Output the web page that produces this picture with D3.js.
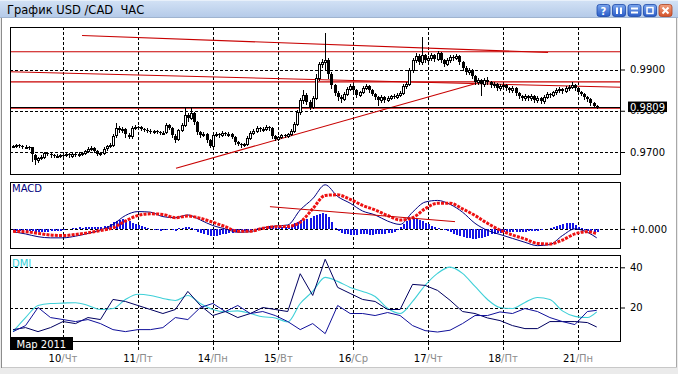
<!DOCTYPE html>
<html>
<head>
<meta charset="utf-8">
<script src="https://cdn.jsdelivr.net/npm/d3@7"></script>
<style>
  body { margin: 0; background: #fff; }
  svg { display: block; }
  text { font-family: "DejaVu Sans", sans-serif; }
</style>
</head>
<body>
<svg id="chart" width="678" height="374"></svg>
<script>
// prices are pips above 0.9700
const BASE = 0.9700;
const opens = [
  14,15,16,14,12,13,11,-7,-19,-15,
  -12,-3,-5,-8,-10,-9,-7,-8,-6,-9,
  -5,-6,-4,-3,2,8,10,3,-4,-2,
  8,14,17,40,58,52,55,42,38,58,
  61,60,56,54,52,50,51,48,46,47,
  65,58,40,30,53,65,90,82,94,73,
  48,41,44,29,15,41,44,41,46,44,
  44,36,24,20,17,19,34,46,51,58,
  55,56,61,58,39,32,36,41,39,44,
  51,68,97,126,138,121,109,131,179,213,
  218,223,189,162,143,133,128,141,153,160,
  150,138,145,155,160,150,141,133,126,133,
  126,131,136,133,138,143,160,165,199,223,
  233,218,235,223,228,235,225,240,223,213,
  223,230,228,233,218,204,194,199,184,170,
  175,165,175,170,162,165,155,160,162,155,
  150,155,143,136,131,136,131,136,126,131,
  124,133,141,138,145,150,153,148,155,158,
  162,155,145,141,133,128,119,111
];
const highs = [
  18,19,19,17,16,15,13,-4,-12,-8,
  1,0,-2,-5,-6,-4,-4,-3,-3,-2,
  -2,-1,1,6,12,14,12,5,1,11,
  17,21,44,70,62,60,57,46,62,65,
  64,63,59,57,55,54,54,51,50,70,
  68,60,43,56,70,107,95,107,97,76,
  51,48,46,32,44,48,47,50,49,48,
  47,38,27,23,22,38,50,55,62,61,
  60,65,64,60,42,40,44,44,47,55,
  72,101,130,150,142,125,135,190,218,225,
  288,228,195,166,147,137,145,157,165,163,
  153,149,159,165,163,153,144,136,137,136,
  135,139,140,142,147,164,170,203,228,240,
  237,279,238,233,240,238,245,243,226,227,
  234,234,238,236,221,208,203,202,187,179,
  178,179,182,173,169,168,164,166,165,158,
  159,158,146,139,140,139,140,139,135,134,
  137,145,144,149,154,157,156,159,162,170,
  165,158,148,144,136,131,122,113
];
const lows = [
  11,12,11,9,9,8,-22,-29,-24,-18,
  -14,-8,-11,-13,-13,-11,-11,-10,-12,-12,
  -9,-9,-7,-5,0,5,0,-8,-7,-4,
  5,11,14,37,48,49,36,33,35,55,
  56,53,51,49,47,47,45,43,43,45,
  55,36,24,28,50,62,76,79,68,44,
  36,38,24,12,13,38,37,39,41,40,
  33,20,16,13,14,17,32,43,48,51,
  52,53,54,35,28,29,33,36,36,41,
  49,65,93,120,116,104,106,128,175,205,
  200,180,155,138,126,122,125,138,150,146,
  134,135,142,152,146,137,129,115,122,122,
  123,128,130,130,135,140,155,162,195,219,
  213,214,218,219,224,220,222,218,208,210,
  219,224,225,214,199,190,190,180,165,166,
  138,161,166,158,158,151,151,156,151,146,
  146,139,132,127,127,126,127,121,122,119,
  120,130,134,135,141,146,144,145,151,155,
  151,141,137,129,124,115,108,107
];
const closes = [
  15,16,14,12,13,11,-7,-19,-15,-12,
  -3,-5,-8,-10,-9,-7,-8,-6,-9,-5,
  -6,-4,-3,2,8,10,3,-4,-2,8,
  14,17,40,58,52,55,42,38,58,61,
  60,56,54,52,50,51,48,46,47,65,
  58,40,30,53,65,90,82,94,73,48,
  41,44,29,15,41,44,41,46,44,44,
  36,24,20,17,19,34,46,51,58,55,
  56,61,58,39,32,36,41,39,44,51,
  68,97,126,138,121,109,131,179,213,218,
  223,189,162,143,133,128,141,153,160,150,
  138,145,155,160,150,141,133,126,133,126,
  131,136,133,138,143,160,165,199,223,233,
  218,235,223,228,235,225,240,223,213,223,
  230,228,233,218,204,194,199,184,170,175,
  165,175,170,162,165,155,160,162,155,150,
  155,143,136,131,136,131,136,126,131,124,
  133,141,138,145,150,153,148,155,158,162,
  155,145,141,133,128,119,111,109
];
const bidPips = 109;
const priceTicks = [0, 100, 200];
const hLines = [243, 170, 106];
// trend lines: [bar, pips, bar, pips]
const trendLines = [
  [22.1, 282.4, 171.4, 241.2],
  [-1, 194.7, 194.8, 156.8],
  [52.2, -39.5, 148.3, 166]
];

const dayBars = [16, 40, 64, 85, 109, 133, 157, 181];
const dayNums = ["10", "11", "14", "15", "16", "17", "18", "21"];
const dayNames = ["Чт", "Пт", "Пн", "Вт", "Ср", "Чт", "Пт", "Пн"];

// indicator lines are read every LINE_STEP bars
const LINE_STEP = 4;
const macdMain = [
  -2.5,-4.5,-7,-8,-8,-6.5,-4,-1,4,12,
  15.5,15,11,10,12.5,8,3,0,-3,-2.5,
  1,2.5,3.5,17,27,39.5,29,23,16,12.5,
  7,4,15,24,25.5,22,15,5,-1.3,-5,
  -8.5,-12,-15,-14,-6,0,-3,-8
];
const macdSignal = [
  -2.2,-2.5,-4,-5.5,-6,-5,-3.5,-1.5,1,7,
  12,13.5,13,10,11.5,9.5,6,2,-2,-2,
  0.5,2,2.2,6,18,30,30.5,26.5,21,17,
  12,8,10,18,23,23,18,12,5,-1,
  -5.5,-9,-13,-13.5,-10,-4.5,-2.5,-4.3
];
const macdHist = [
  -1.5,-1.5,-1.5,-1.5,-2,-2,-2,-2.5,-2.5,-2.5,
  -2.5,-2.5,-2,-2,-2,-1.5,-1,-0.5,-0.5,0.5,
  1,1.5,1,2,2,1.5,2,1.5,2,2.5,
  3,4.5,6,7,8,8.5,8,7,5.5,4,
  3.5,2.5,1.5,0.5,-0.5,-1,-1,-1.5,-1,-1,
  -0.5,-1,-1.5,0.5,1,1.5,1.5,0.5,-1,-2.5,
  -3.5,-4.5,-5.5,-6.5,-6.5,-6,-5.5,-5,-4.5,-4,
  -3.5,-3,-2.5,-2,-2,-1.5,-1,-0.5,0.5,1,
  1.5,2,2.5,2.5,2,1.5,1.5,2,2.5,3.5,
  5,6.5,8,8.5,9,10,11.5,12.5,13.5,14,
  13.5,11,6,1,-2,-3.5,-4.5,-5,-5.5,-5.5,
  -5.5,-5,-5,-5,-5.5,-5.5,-5,-5,-4.5,-4.5,
  -4,-3.5,-2.5,-1,2,4.5,7,8.5,9,9,
  8,7,5.5,4,2.5,1.5,0.5,-0.5,-1,-2,
  -3,-4.5,-5.5,-6.5,-7.5,-8,-8.5,-9,-9,-8.5,
  -8,-7,-6,-5,-4.5,-4,-3.5,-3,-3,-3,
  -3,-2.5,-2.5,-2.5,-2.5,-2,-2,-2,-1.5,-1,
  -0.5,0,0.5,1.5,2.5,3.5,4.5,5,5.5,5,
  3.5,2,0.5,-1,-2,-2.5,-3,-3
];
const macdTrend = [82.3, 19.9, 141.6, 6.5];

const adx = [
  8,15,21,22,22.2,22.4,21,19,19.5,24,
  26.6,26,24.5,23.5,26,22,19,17.9,18.3,17,
  15.4,14.8,12.8,22,28,35,33,30,28,25.5,
  19.6,17,23,31,37,40.1,37,30.5,24,20,
  19.5,22.5,25,24,18.3,15.6,15,17.8
];
const plusDI = [
  9,10,8,10,13,12,15,14,24,23,
  21,19,17,19,28,21,16,18,15,17,
  20,19,18,36.8,26,44,30,27,24,23,
  19,19,31.5,31,28.5,23.6,18,17,14.8,13.5,
  11,9.5,9.5,13,13,13,12.5,10.3
];
const minusDI = [
  8,11,20,15,14,13,14,12,9,8,
  9,9,10,15,14,20,22,18,21,17,
  18,16,13,9,12,7,21,17,17,16,
  17.5,16,11,8.5,7.8,8.7,12,16,16,17.8,
  17,19.5,18,15,13,11.5,18,18.6
];
const dmiTicks = [20, 40];

const svg = d3.select("#chart");
const W = 678, H = 374;
const left = 10, right = 621;
const mainP = { top: 27, bottom: 175 };
const macdP = { top: 182, bottom: 249 };
const dmiP = { top: 255, bottom: 342 };

const x = d3.scaleLinear().domain([16, 181]).range([63, 578]);
const yPrice = d3.scaleLinear().domain([0, 200]).range([152, 69.5]);
const yMacd = d3.scaleLinear().domain([-18, 42]).range([249, 182]);
const yDmi = d3.scaleLinear().domain([0, 40]).range([347.7, 267.3]);
const xLine = k => x(Math.min(k * LINE_STEP, closes.length - 1));
const px = v => Math.round(x(v)) + 0.5;

// window frame
const defs = svg.append("defs");
const tg = defs.append("linearGradient").attr("id", "titleGrad").attr("x1", 0).attr("y1", 0).attr("x2", 0).attr("y2", 1);
tg.append("stop").attr("offset", 0).attr("stop-color", "#d3e2f5");
tg.append("stop").attr("offset", 1).attr("stop-color", "#b3c9e8");
const bg = defs.append("linearGradient").attr("id", "btnGrad").attr("x1", 0).attr("y1", 0).attr("x2", 0).attr("y2", 1);
bg.append("stop").attr("offset", 0).attr("stop-color", "#7aa5ec");
bg.append("stop").attr("offset", 1).attr("stop-color", "#2a5cc8");
const rg = defs.append("linearGradient").attr("id", "closeGrad").attr("x1", 0).attr("y1", 0).attr("x2", 0).attr("y2", 1);
rg.append("stop").attr("offset", 0).attr("stop-color", "#f0a080");
rg.append("stop").attr("offset", 1).attr("stop-color", "#d4532a");

[["main", mainP], ["macd", macdP], ["dmi", dmiP]].forEach(([id, p]) => {
  defs.append("clipPath").attr("id", "clip-" + id)
    .append("rect").attr("x", left).attr("y", p.top).attr("width", right - left).attr("height", p.bottom - p.top);
});

svg.append("rect").attr("width", W).attr("height", H).attr("fill", "#ebebeb");
svg.append("rect").attr("x", 2).attr("y", 18).attr("width", 674).attr("height", 349).attr("fill", "#fff");
svg.append("rect").attr("x", 0).attr("y", 0).attr("width", W).attr("height", 18).attr("fill", "url(#titleGrad)");
svg.append("line").attr("x1", 0).attr("x2", W).attr("y1", 17.5).attr("y2", 17.5).attr("stroke", "#9fb3cf");
svg.append("line").attr("x1", 0).attr("x2", W).attr("y1", 0.5).attr("y2", 0.5).attr("stroke", "#e8f0fa");
svg.append("line").attr("x1", 1.5).attr("x2", 1.5).attr("y1", 18).attr("y2", 368).attr("stroke", "#8c8c8c");
svg.append("line").attr("x1", 676.5).attr("x2", 676.5).attr("y1", 18).attr("y2", 368).attr("stroke", "#a8a8a8");
svg.append("line").attr("x1", 2).attr("x2", 677).attr("y1", 367.5).attr("y2", 367.5).attr("stroke", "#c8c8c8");

svg.append("text").attr("x", 7).attr("y", 14).attr("font-size", 11.5).attr("fill", "#000")
  .style("white-space", "pre").text("График USD /CAD  ЧАС");

const btnX = [597, 612.5, 628, 643.5, 659];
const btns = svg.append("g").selectAll("g").data(btnX).join("g")
  .attr("transform", d => `translate(${d},4.5)`);
btns.append("rect").attr("width", 13).attr("height", 12).attr("rx", 2.5)
  .attr("fill", (d, i) => i === 4 ? "url(#closeGrad)" : "url(#btnGrad)")
  .attr("stroke", (d, i) => i === 4 ? "#b0401c" : "#1d49a8").attr("stroke-width", 0.8);
btns.filter((d, i) => i === 0).append("text").attr("x", 6.5).attr("y", 10).attr("text-anchor", "middle")
  .attr("font-size", 10).attr("font-weight", "bold").attr("fill", "#fff").text("?");
const pauseB = btns.filter((d, i) => i === 1);
pauseB.append("rect").attr("x", 3.5).attr("y", 3).attr("width", 2).attr("height", 6.5).attr("fill", "#fff");
pauseB.append("rect").attr("x", 7.5).attr("y", 3).attr("width", 2).attr("height", 6.5).attr("fill", "#fff");
const eqB = btns.filter((d, i) => i === 2);
eqB.append("rect").attr("x", 3).attr("y", 3).attr("width", 7).attr("height", 2).attr("fill", "#fff");
eqB.append("rect").attr("x", 3).attr("y", 7).attr("width", 7).attr("height", 2).attr("fill", "#fff");
btns.filter((d, i) => i === 3).append("rect").attr("x", 3.5).attr("y", 3).attr("width", 6).attr("height", 6)
  .attr("fill", "none").attr("stroke", "#fff").attr("stroke-width", 1.5);
const xB = btns.filter((d, i) => i === 4);
xB.append("path").attr("d", "M3.5,3 L9.5,9 M9.5,3 L3.5,9").attr("stroke", "#fff").attr("stroke-width", 2);

// grid helpers
function vGrid(p) {
  svg.append("g").selectAll("line").data(dayBars).join("line")
    .attr("x1", d => px(d)).attr("x2", d => px(d)).attr("y1", p.top).attr("y2", p.bottom)
    .attr("stroke", "#000").attr("stroke-dasharray", "3,2").attr("shape-rendering", "crispEdges");
}
function hGrid(p, vals, scale) {
  svg.append("g").selectAll("line").data(vals).join("line")
    .attr("x1", left).attr("x2", right)
    .attr("y1", d => Math.round(scale(d)) + 0.5).attr("y2", d => Math.round(scale(d)) + 0.5)
    .attr("stroke", "#000").attr("stroke-dasharray", "3,2").attr("shape-rendering", "crispEdges");
}
function rightAxis(scale, vals, fmt) {
  const g = svg.append("g").attr("transform", `translate(${right},0)`)
    .call(d3.axisRight(scale).tickValues(vals).tickFormat(fmt).tickSize(4).tickPadding(5));
  g.select(".domain").remove();
  g.selectAll("line").attr("stroke", "#000");
  g.selectAll("text").attr("font-size", 10).attr("font-family", "DejaVu Sans, sans-serif").attr("fill", "#000");
  return g;
}

// ---- main price panel
vGrid(mainP);
hGrid(mainP, priceTicks, yPrice);
const gMain = svg.append("g").attr("clip-path", "url(#clip-main)");

gMain.append("g").selectAll("line").data(hLines).join("line")
  .attr("x1", left).attr("x2", right).attr("y1", d => yPrice(d)).attr("y2", d => yPrice(d))
  .attr("stroke", "#c80000").attr("stroke-width", 1.1);
gMain.append("g").selectAll("line").data(trendLines).join("line")
  .attr("x1", d => x(d[0])).attr("y1", d => yPrice(d[1]))
  .attr("x2", d => x(d[2])).attr("y2", d => yPrice(d[3]))
  .attr("stroke", "#c80000").attr("stroke-width", 1.1);
gMain.append("line").attr("x1", left).attr("x2", right)
  .attr("y1", Math.round(yPrice(bidPips)) + 0.5).attr("y2", Math.round(yPrice(bidPips)) + 0.5)
  .attr("stroke", "#000").attr("shape-rendering", "crispEdges");

const candles = gMain.append("g").selectAll("g").data(closes.map((c, i) => i)).join("g");
candles.append("line")
  .attr("x1", i => px(i)).attr("x2", i => px(i))
  .attr("y1", i => Math.round(yPrice(highs[i]))).attr("y2", i => Math.round(yPrice(lows[i])) + 1)
  .attr("stroke", "#000").attr("shape-rendering", "crispEdges");
candles.append("rect")
  .attr("x", i => closes[i] >= opens[i] ? px(i) - 1 : px(i) - 1.5)
  .attr("width", i => closes[i] >= opens[i] ? 2 : 3)
  .attr("y", i => Math.round(yPrice(Math.max(opens[i], closes[i]))) + (closes[i] >= opens[i] ? 0.5 : 0))
  .attr("height", i => Math.max(1, Math.round(yPrice(Math.min(opens[i], closes[i])) - yPrice(Math.max(opens[i], closes[i])))))
  .attr("fill", i => closes[i] >= opens[i] ? "#fff" : "#000")
  .attr("stroke", i => closes[i] >= opens[i] ? "#000" : "none")
  .attr("shape-rendering", "crispEdges");

svg.append("rect").attr("x", left + 0.5).attr("y", mainP.top + 0.5)
  .attr("width", right - left - 1).attr("height", mainP.bottom - mainP.top - 1)
  .attr("fill", "none").attr("stroke", "#000").attr("shape-rendering", "crispEdges");
rightAxis(yPrice, priceTicks, d => (BASE + d / 10000).toFixed(4));

const bidY = yPrice(bidPips);
svg.append("rect").attr("x", 628).attr("y", bidY - 5.5).attr("width", 39).attr("height", 10.5).attr("fill", "#000");
svg.append("text").attr("x", 630).attr("y", bidY).attr("dy", "0.35em").attr("font-size", 10)
  .attr("fill", "#fff").text((BASE + bidPips / 10000).toFixed(4));

// ---- MACD panel
vGrid(macdP);
hGrid(macdP, [0], yMacd);
const gMacd = svg.append("g").attr("clip-path", "url(#clip-macd)");
gMacd.append("g").selectAll("rect").data(macdHist).join("rect")
  .attr("x", (d, i) => px(i) - 1).attr("width", 2)
  .attr("y", d => Math.min(yMacd(0), yMacd(d)))
  .attr("height", d => Math.abs(yMacd(d) - yMacd(0)))
  .attr("fill", "#1414e6").attr("shape-rendering", "crispEdges");
gMacd.append("path").datum(macdMain)
  .attr("d", d3.line().x((d, k) => xLine(k)).y(d => yMacd(d)).curve(d3.curveMonotoneX))
  .attr("fill", "none").attr("stroke", "#000080").attr("stroke-width", 1);
gMacd.append("path").datum(macdSignal)
  .attr("d", d3.line().x((d, k) => xLine(k)).y(d => yMacd(d)).curve(d3.curveMonotoneX))
  .attr("fill", "none").attr("stroke", "#ee1111").attr("stroke-width", 3).attr("stroke-dasharray", "3,1.2");
gMacd.append("line")
  .attr("x1", x(macdTrend[0])).attr("y1", yMacd(macdTrend[1]))
  .attr("x2", x(macdTrend[2])).attr("y2", yMacd(macdTrend[3]))
  .attr("stroke", "#c80000").attr("stroke-width", 1);
svg.append("rect").attr("x", left + 0.5).attr("y", macdP.top + 0.5)
  .attr("width", right - left - 1).attr("height", macdP.bottom - macdP.top - 1)
  .attr("fill", "none").attr("stroke", "#000").attr("shape-rendering", "crispEdges");
rightAxis(yMacd, [0], d3.format("+.3f"));
svg.append("text").attr("x", 12).attr("y", 192).attr("font-size", 10).attr("fill", "#000080").text("MACD");

// ---- DMI panel
vGrid(dmiP);
hGrid(dmiP, dmiTicks, yDmi);
const gDmi = svg.append("g").attr("clip-path", "url(#clip-dmi)");
const dmiLine = d3.line().x((d, k) => xLine(k)).y(d => yDmi(d));
gDmi.append("path").datum(adx).attr("d", dmiLine.curve(d3.curveMonotoneX))
  .attr("fill", "none").attr("stroke", "#3fd0d8").attr("stroke-width", 1.1);
gDmi.append("path").datum(plusDI).attr("d", dmiLine.curve(d3.curveLinear))
  .attr("fill", "none").attr("stroke", "#000060").attr("stroke-width", 1);
gDmi.append("path").datum(minusDI).attr("d", dmiLine.curve(d3.curveLinear))
  .attr("fill", "none").attr("stroke", "#10109a").attr("stroke-width", 1);
svg.append("rect").attr("x", left + 0.5).attr("y", dmiP.top + 0.5)
  .attr("width", right - left - 1).attr("height", dmiP.bottom - dmiP.top - 1)
  .attr("fill", "none").attr("stroke", "#000").attr("shape-rendering", "crispEdges");
rightAxis(yDmi, dmiTicks, d3.format("d"));
svg.append("text").attr("x", 12).attr("y", 267).attr("font-size", 10).attr("fill", "#30d0d8").text("DMI");

// ---- time axis
svg.append("g").selectAll("line").data(dayBars).join("line")
  .attr("x1", d => px(d)).attr("x2", d => px(d)).attr("y1", dmiP.bottom).attr("y2", dmiP.bottom + 8)
  .attr("stroke", "#000").attr("stroke-dasharray", "3,2").attr("shape-rendering", "crispEdges");
const lbl = svg.append("g").selectAll("text").data(dayBars).join("text")
  .attr("x", d => x(d)).attr("y", 362).attr("text-anchor", "middle").attr("font-size", 10);
lbl.append("tspan").attr("fill", "#000").text((d, i) => dayNums[i]);
lbl.append("tspan").attr("fill", "#8c8c8c").text((d, i) => "/" + dayNames[i]);

svg.append("rect").attr("x", 10).attr("y", 337).attr("width", 63).attr("height", 13).attr("fill", "#000");
svg.append("text").attr("x", 16.5).attr("y", 347.5).attr("font-size", 10).attr("fill", "#fff").text("Мар 2011");
</script>
</body>
</html>
